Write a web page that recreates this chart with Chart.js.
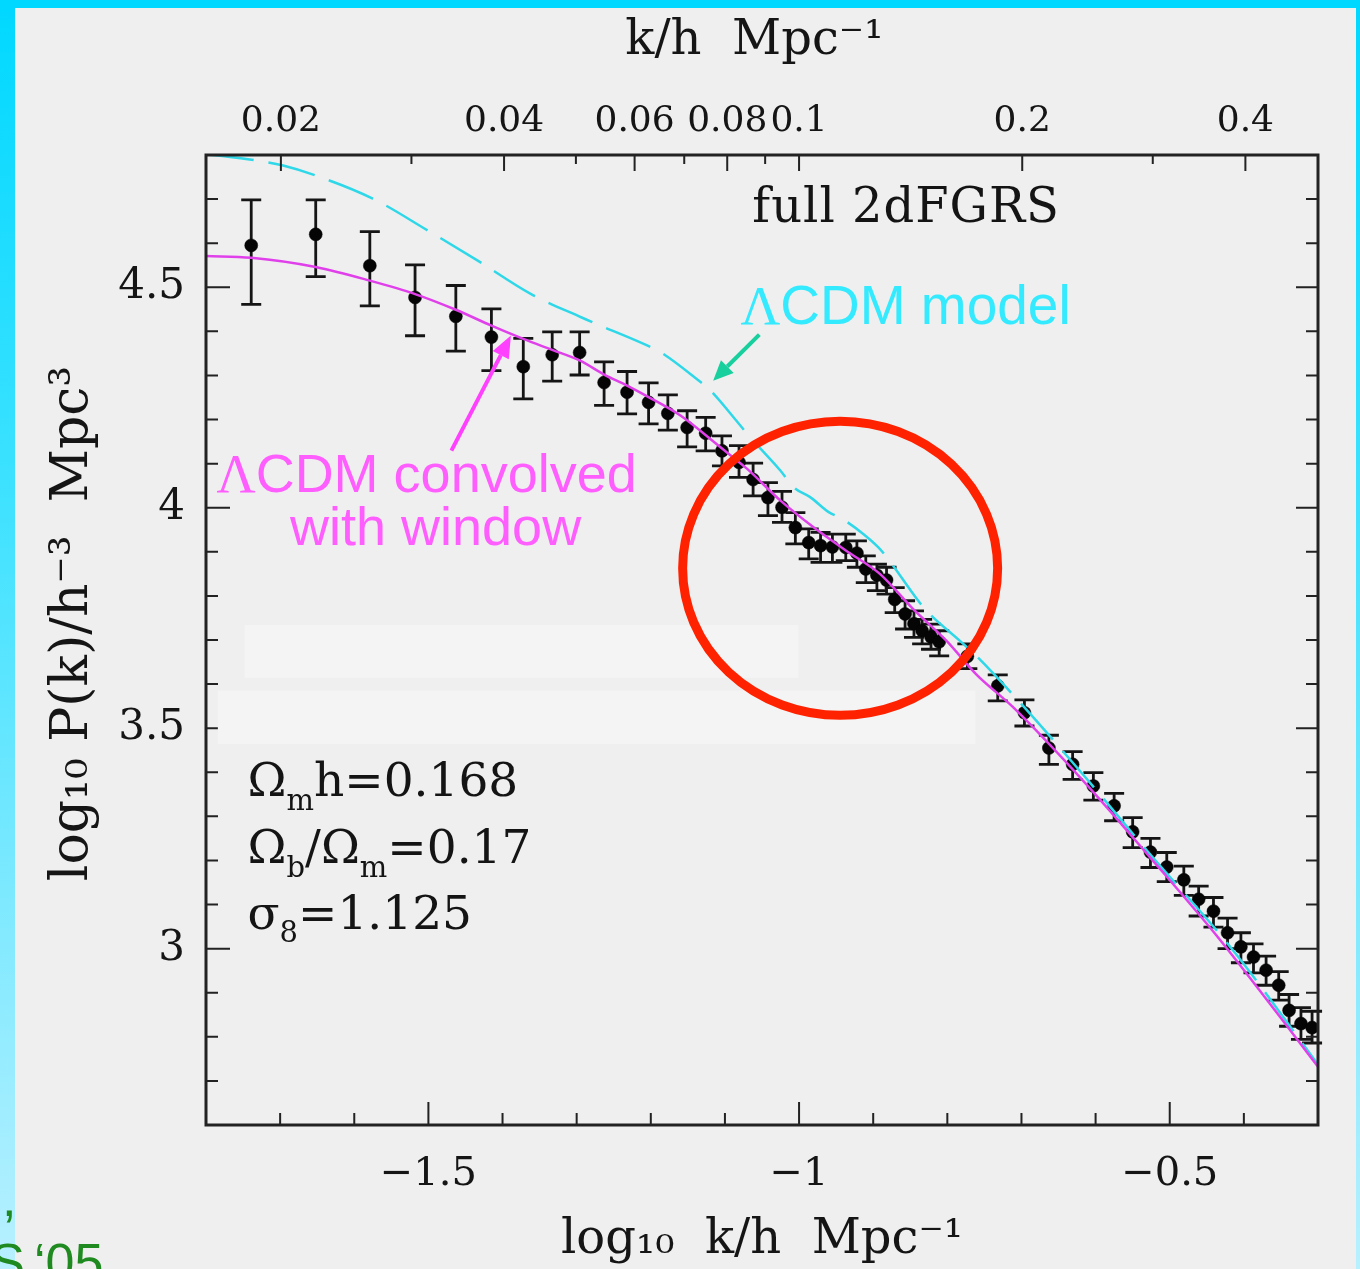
<!DOCTYPE html>
<html>
<head>
<meta charset="utf-8">
<title>2dFGRS power spectrum</title>
<script src="https://cdn.jsdelivr.net/npm/chart.js@4.4.1/dist/chart.umd.min.js"></script>
<style>
  html, body { margin: 0; padding: 0; }
  body {
    width: 1360px; height: 1269px; overflow: hidden; position: relative;
    background: linear-gradient(to bottom, #00d8ff 0%, #40e2ff 40%, #b8f0ff 100%);
  }
  #panel { position: absolute; left: 15px; top: 8px; width: 1341px; height: 1261px; background: #efefef; }
  #wrap { position: absolute; left: 0; top: 0; width: 1360px; height: 1269px; }
</style>
</head>
<body>
<div id="panel"></div>
<div id="wrap"><canvas id="pk" width="1360" height="1269"></canvas></div>
<script>
// 2dFGRS band powers: log10 k, log10 P(k) and the 1-sigma range
const logK = [-1.739,-1.652,-1.579,-1.518,-1.463,-1.415,-1.372,-1.333,-1.296,-1.263,-1.232,-1.203,-1.177,-1.151,-1.126,-1.104,-1.081,-1.062,-1.042,-1.023,-1.005,-0.987,-0.971,-0.955,-0.937,-0.922,-0.910,-0.895,-0.882,-0.871,-0.857,-0.845,-0.834,-0.822,-0.811,-0.773,-0.732,-0.696,-0.663,-0.631,-0.603,-0.575,-0.550,-0.526,-0.504,-0.481,-0.461,-0.441,-0.422,-0.404,-0.387,-0.370,-0.353,-0.339,-0.323,-0.308];
const logP = [4.595,4.620,4.549,4.477,4.434,4.387,4.320,4.347,4.352,4.284,4.262,4.239,4.214,4.182,4.169,4.129,4.103,4.064,4.023,4.001,3.955,3.921,3.914,3.911,3.910,3.897,3.861,3.847,3.836,3.792,3.759,3.737,3.721,3.707,3.696,3.663,3.596,3.535,3.455,3.418,3.369,3.324,3.265,3.219,3.185,3.156,3.112,3.085,3.036,3.004,2.981,2.951,2.917,2.860,2.830,2.821];
const logPHi = [4.698,4.698,4.626,4.551,4.504,4.451,4.384,4.399,4.399,4.331,4.309,4.283,4.256,4.220,4.205,4.163,4.141,4.101,4.057,4.037,3.989,3.952,3.944,3.940,3.940,3.925,3.891,3.872,3.865,3.819,3.789,3.766,3.747,3.736,3.721,3.691,3.621,3.564,3.484,3.447,3.399,3.352,3.297,3.250,3.218,3.187,3.142,3.116,3.069,3.036,3.011,2.983,2.948,2.896,2.866,2.858];
const logPLo = [4.461,4.524,4.458,4.390,4.355,4.311,4.247,4.287,4.301,4.232,4.213,4.190,4.176,4.138,4.129,4.095,4.069,4.027,3.982,3.967,3.918,3.884,3.876,3.876,3.880,3.865,3.830,3.812,3.804,3.762,3.725,3.706,3.691,3.679,3.664,3.635,3.562,3.505,3.418,3.384,3.337,3.290,3.229,3.184,3.152,3.121,3.074,3.049,3.000,2.968,2.945,2.917,2.883,2.824,2.794,2.786];

// ΛCDM spectrum convolved with the survey window
const convLogK = [-1.800,-1.739,-1.652,-1.579,-1.517,-1.463,-1.415,-1.372,-1.333,-1.296,-1.263,-1.232,-1.203,-1.160,-1.106,-1.070,-1.025,-0.980,-0.936,-0.891,-0.846,-0.801,-0.761,-0.711,-0.617,-0.526,-0.438,-0.348,-0.300];
const convLogP = [4.571,4.567,4.546,4.515,4.484,4.449,4.413,4.383,4.358,4.334,4.302,4.277,4.251,4.209,4.137,4.088,4.016,3.955,3.902,3.850,3.770,3.698,3.622,3.547,3.381,3.206,3.032,2.838,2.732];

// ΛCDM model spectrum
const modelLogK = [-1.800,-1.734,-1.696,-1.653,-1.575,-1.501,-1.434,-1.362,-1.294,-1.268,-1.205,-1.187,-1.135,-1.122,-1.079,-1.066,-1.025,-1.007,-0.985,-0.960,-0.942,-0.913,-0.893,-0.880,-0.841,-0.828,-0.783,-0.761,-0.711,-0.617,-0.527,-0.415,-0.300];
const modelLogP = [4.802,4.788,4.776,4.754,4.701,4.629,4.561,4.485,4.432,4.413,4.368,4.353,4.288,4.270,4.186,4.160,4.084,4.046,4.024,3.990,3.975,3.940,3.910,3.884,3.793,3.766,3.698,3.664,3.575,3.395,3.215,2.997,2.737];

// Axis ticks
const xTickVals = [-1.8,-1.7,-1.6,-1.5,-1.4,-1.3,-1.2,-1.1,-1.0,-0.9,-0.8,-0.7,-0.6,-0.5,-0.4,-0.3];
const xTickLabels = ['','','','\u22121.5','','','','','\u22121','','','','','\u22120.5','',''];
const kTopVals = [0.02,0.03,0.04,0.05,0.06,0.07,0.08,0.09,0.1,0.2,0.3,0.4];
const kTopLabels = ['0.02','','0.04','','0.06','','0.08','','0.1','0.2','','0.4'];
const yTickVals = [2.6,2.7,2.8,2.9,3.0,3.1,3.2,3.3,3.4,3.5,3.6,3.7,3.8,3.9,4.0,4.1,4.2,4.3,4.4,4.5,4.6,4.7,4.8];
const yTickLabels = ['','','','','3','','','','','3.5','','','','','4','','','','','4.5','','',''];

const SERIF = "'DejaVu Serif', serif";
const SANS = "'Liberation Sans', Arial, sans-serif";

// Error bars with caps, drawn underneath the points and curves
const errorBars = {
  id: 'errorBars',
  beforeDatasetsDraw(chart) {
    const { ctx, scales: { x, y } } = chart;
    ctx.save();
    ctx.strokeStyle = '#151515';
    ctx.lineWidth = 2.8;
    ctx.beginPath();
    for (let i = 0; i < logK.length; i++) {
      const px = x.getPixelForValue(logK[i]);
      const hi = y.getPixelForValue(logPHi[i]);
      const lo = y.getPixelForValue(logPLo[i]);
      ctx.moveTo(px, hi); ctx.lineTo(px, lo);
      ctx.moveTo(px - 10, hi); ctx.lineTo(px + 10, hi);
      ctx.moveTo(px - 10, lo); ctx.lineTo(px + 10, lo);
    }
    ctx.stroke();
    ctx.restore();
  }
};

// Box frame with inward tick marks on all four sides
const frameTicks = {
  id: 'frameTicks',
  afterDatasetsDraw(chart) {
    const { ctx, chartArea: a, scales } = chart;
    ctx.save();
    ctx.strokeStyle = '#222';
    ctx.lineWidth = 2;
    ctx.beginPath();
    scales.x.ticks.forEach((t, i) => {
      const p = scales.x.getPixelForValue(t.value);
      const L = xTickLabels[i] ? 23 : 12;
      ctx.moveTo(p, a.bottom); ctx.lineTo(p, a.bottom - L);
    });
    scales.x2.ticks.forEach((t, i) => {
      const p = scales.x2.getPixelForValue(t.value);
      const L = kTopLabels[i] ? 16 : 9;
      ctx.moveTo(p, a.top); ctx.lineTo(p, a.top + L);
    });
    scales.y.ticks.forEach((t, i) => {
      const p = scales.y.getPixelForValue(t.value);
      const L = yTickLabels[i] ? 24 : 12;
      ctx.moveTo(a.left, p); ctx.lineTo(a.left + L, p);
    });
    scales.y2.ticks.forEach((t, i) => {
      const p = scales.y2.getPixelForValue(t.value);
      const L = yTickLabels[i] ? 22 : 12;
      ctx.moveTo(a.right, p); ctx.lineTo(a.right - L, p);
    });
    ctx.stroke();
    ctx.lineWidth = 3;
    ctx.strokeRect(a.left, a.top, a.right - a.left, a.bottom - a.top);
    ctx.restore();
  }
};

function drawRuns(ctx, x, y, runs) {
  let cx = x;
  runs.forEach(r => {
    ctx.font = r.font;
    ctx.fillText(r.t, cx, y + (r.dy || 0));
    cx += ctx.measureText(r.t).width;
  });
  return cx;
}
function runsWidth(ctx, runs) {
  let w = 0;
  runs.forEach(r => { ctx.font = r.font; w += ctx.measureText(r.t).width; });
  return w;
}
function arrow(ctx, x0, y0, x1, y1, color, width, headLen, headHalf) {
  const ang = Math.atan2(y1 - y0, x1 - x0);
  const bx = x1 - headLen * Math.cos(ang), by = y1 - headLen * Math.sin(ang);
  ctx.strokeStyle = color; ctx.fillStyle = color; ctx.lineWidth = width;
  ctx.beginPath(); ctx.moveTo(x0, y0); ctx.lineTo(bx, by); ctx.stroke();
  ctx.beginPath();
  ctx.moveTo(x1, y1);
  ctx.lineTo(bx + headHalf * Math.sin(ang), by - headHalf * Math.cos(ang));
  ctx.lineTo(bx - headHalf * Math.sin(ang), by + headHalf * Math.cos(ang));
  ctx.closePath(); ctx.fill();
}

// Labels, parameter list, arrows and the highlighted region
const annotations = {
  id: 'annotations',
  afterDraw(chart) {
    const { ctx, scales: { x, y } } = chart;
    const X = v => x.getPixelForValue(v), Y = v => y.getPixelForValue(v);
    ctx.save();

    // pale patches over the plot
    ctx.fillStyle = '#f4f4f4';
    ctx.fillRect(X(-1.748), Y(3.734), X(-1.001) - X(-1.748), Y(3.614) - Y(3.734));
    ctx.fillRect(X(-1.784), Y(3.585), X(-0.762) - X(-1.784), Y(3.464) - Y(3.585));

    ctx.textBaseline = 'alphabetic';
    ctx.textAlign = 'left';

    // survey name
    ctx.fillStyle = '#141414';
    ctx.letterSpacing = '1px';
    ctx.font = '48px ' + SERIF;
    ctx.fillText('full 2dFGRS', X(-1.063), Y(4.6475));
    ctx.letterSpacing = '0px';

    // model label
    ctx.fillStyle = '#33eaff';
    drawRuns(ctx, X(-1.0791), Y(4.417), [
      { t: '\u039b', font: "55px 'Liberation Serif', serif" },
      { t: 'CDM model', font: '55px ' + SANS }
    ]);

    // convolved model label
    ctx.fillStyle = '#ff5eff';
    const l1 = [
      { t: '\u039b', font: "54px 'Liberation Serif', serif" },
      { t: 'CDM convolved', font: '54px ' + SANS }
    ];
    drawRuns(ctx, X(-1.5024) - runsWidth(ctx, l1) / 2, Y(4.0347), l1);
    const l2 = [{ t: 'with window', font: '54px ' + SANS }];
    drawRuns(ctx, X(-1.4903) - runsWidth(ctx, l2) / 2, Y(3.916), l2);

    // cosmological parameters
    ctx.fillStyle = '#141414';
    const big = '47px ' + SERIF, sub = '29px ' + SERIF;
    drawRuns(ctx, X(-1.744), Y(3.3463), [
      { t: '\u03a9', font: big }, { t: 'm', font: sub, dy: 14 }, { t: 'h=0.168', font: big }
    ]);
    drawRuns(ctx, X(-1.744), Y(3.1949), [
      { t: '\u03a9', font: big }, { t: 'b', font: sub, dy: 14 }, { t: '/\u03a9', font: big },
      { t: 'm', font: sub, dy: 14 }, { t: '=0.17', font: big }
    ]);
    drawRuns(ctx, X(-1.744), Y(3.0437), [
      { t: '\u03c3', font: big }, { t: '8', font: sub, dy: 13 }, { t: '=1.125', font: big }
    ]);

    // arrows
    arrow(ctx, X(-1.469), Y(4.1294), X(-1.3887), Y(4.3904), '#ff40ff', 4, 22, 9);
    arrow(ctx, X(-1.0536), Y(4.3926), X(-1.1159), Y(4.2882), '#18cf9e', 4, 20, 9);

    // highlighted region
    ctx.strokeStyle = '#ff2200';
    ctx.lineWidth = 9;
    ctx.beginPath();
    ctx.ellipse(X(-0.9446), Y(3.8627), 157.5, 147, 0, 0, Math.PI * 2);
    ctx.stroke();

    // reference note at the page corner
    ctx.fillStyle = '#1f8a1f';
    ctx.font = '52px ' + SANS;
    ctx.fillText(',', 2, 1216);
    ctx.textAlign = 'right';
    ctx.fillText('S', 25, 1280);
    ctx.textAlign = 'left';
    ctx.fillText('\u201805', 34, 1280);

    ctx.restore();
  }
};

const points = logK.map((k, i) => ({ x: k, y: logP[i] }));
const convLine = convLogK.map((k, i) => ({ x: k, y: convLogP[i] }));
const modelLine = modelLogK.map((k, i) => ({ x: k, y: modelLogP[i] }));

new Chart(document.getElementById('pk'), {
  type: 'scatter',
  data: {
    datasets: [
      {
        label: '\u039bCDM convolved with window',
        data: convLine, showLine: true, pointRadius: 0,
        borderColor: '#e040ea', borderWidth: 2.5,
        cubicInterpolationMode: 'monotone', order: 0
      },
      {
        label: '\u039bCDM model',
        data: modelLine, showLine: true, pointRadius: 0,
        borderColor: '#2ed8e8', borderWidth: 2.5, borderDash: [48, 15],
        cubicInterpolationMode: 'monotone', order: 1
      },
      {
        label: 'full 2dFGRS',
        data: points, pointRadius: 6.5, pointHoverRadius: 6.5,
        backgroundColor: '#050505', borderColor: '#050505', borderWidth: 0.5,
        order: 2
      }
    ]
  },
  options: {
    responsive: false,
    animation: false,
    devicePixelRatio: 1,
    layout: { padding: 0 },
    plugins: { legend: { display: false }, tooltip: { enabled: false } },
    scales: {
      x: {
        type: 'linear', position: 'bottom', min: -1.8, max: -0.3,
        afterBuildTicks: s => { s.ticks = xTickVals.map(v => ({ value: v })); },
        afterFit: s => { s.height = 144; },
        grid: { display: false, drawTicks: false },
        border: { display: false },
        ticks: {
          autoSkip: false, maxRotation: 0, minRotation: 0, padding: 26, color: '#151515',
          font: { family: SERIF, size: 40 },
          callback: (v, i) => xTickLabels[i]
        },
        title: {
          display: true, text: 'log\u2081\u2080  k/h  Mpc\u207b\u00b9', color: '#151515',
          font: { family: SERIF, size: 48 }, padding: { top: 0, bottom: 0 }
        }
      },
      x2: {
        type: 'linear', position: 'top', min: -1.8, max: -0.3,
        afterBuildTicks: s => { s.ticks = kTopVals.map(k => ({ value: Math.log10(k) })); },
        afterFit: s => { s.height = 155; },
        grid: { display: false, drawTicks: false },
        border: { display: false },
        ticks: {
          autoSkip: false, maxRotation: 0, minRotation: 0, padding: 12, color: '#151515',
          font: { family: SERIF, size: 36 },
          callback: (v, i) => kTopLabels[i]
        },
        title: {
          display: true, text: 'k/h  Mpc\u207b\u00b9 ', color: '#151515',
          font: { family: SERIF, size: 48 }, padding: { top: 13, bottom: 0 }
        }
      },
      y: {
        type: 'linear', position: 'left', min: 2.6, max: 4.8,
        afterBuildTicks: s => { s.ticks = yTickVals.map(v => ({ value: v })); },
        afterFit: s => { s.width = 206; },
        grid: { display: false, drawTicks: false },
        border: { display: false },
        ticks: {
          autoSkip: false, padding: 21, color: '#151515',
          font: { family: SERIF, size: 42 },
          callback: (v, i) => yTickLabels[i]
        },
        title: {
          display: true, text: '  log\u2081\u2080 P(k)/h\u207b\u00b3  Mpc\u00b3', color: '#151515',
          font: { family: SERIF, size: 52 }, padding: { top: 42, bottom: 0 }
        }
      },
      y2: {
        type: 'linear', position: 'right', min: 2.6, max: 4.8,
        afterBuildTicks: s => { s.ticks = yTickVals.map(v => ({ value: v })); },
        afterFit: s => { s.width = 42; },
        grid: { display: false, drawTicks: false },
        border: { display: false },
        ticks: { display: false }
      }
    }
  },
  plugins: [errorBars, frameTicks, annotations]
});
</script>
</body>
</html>
